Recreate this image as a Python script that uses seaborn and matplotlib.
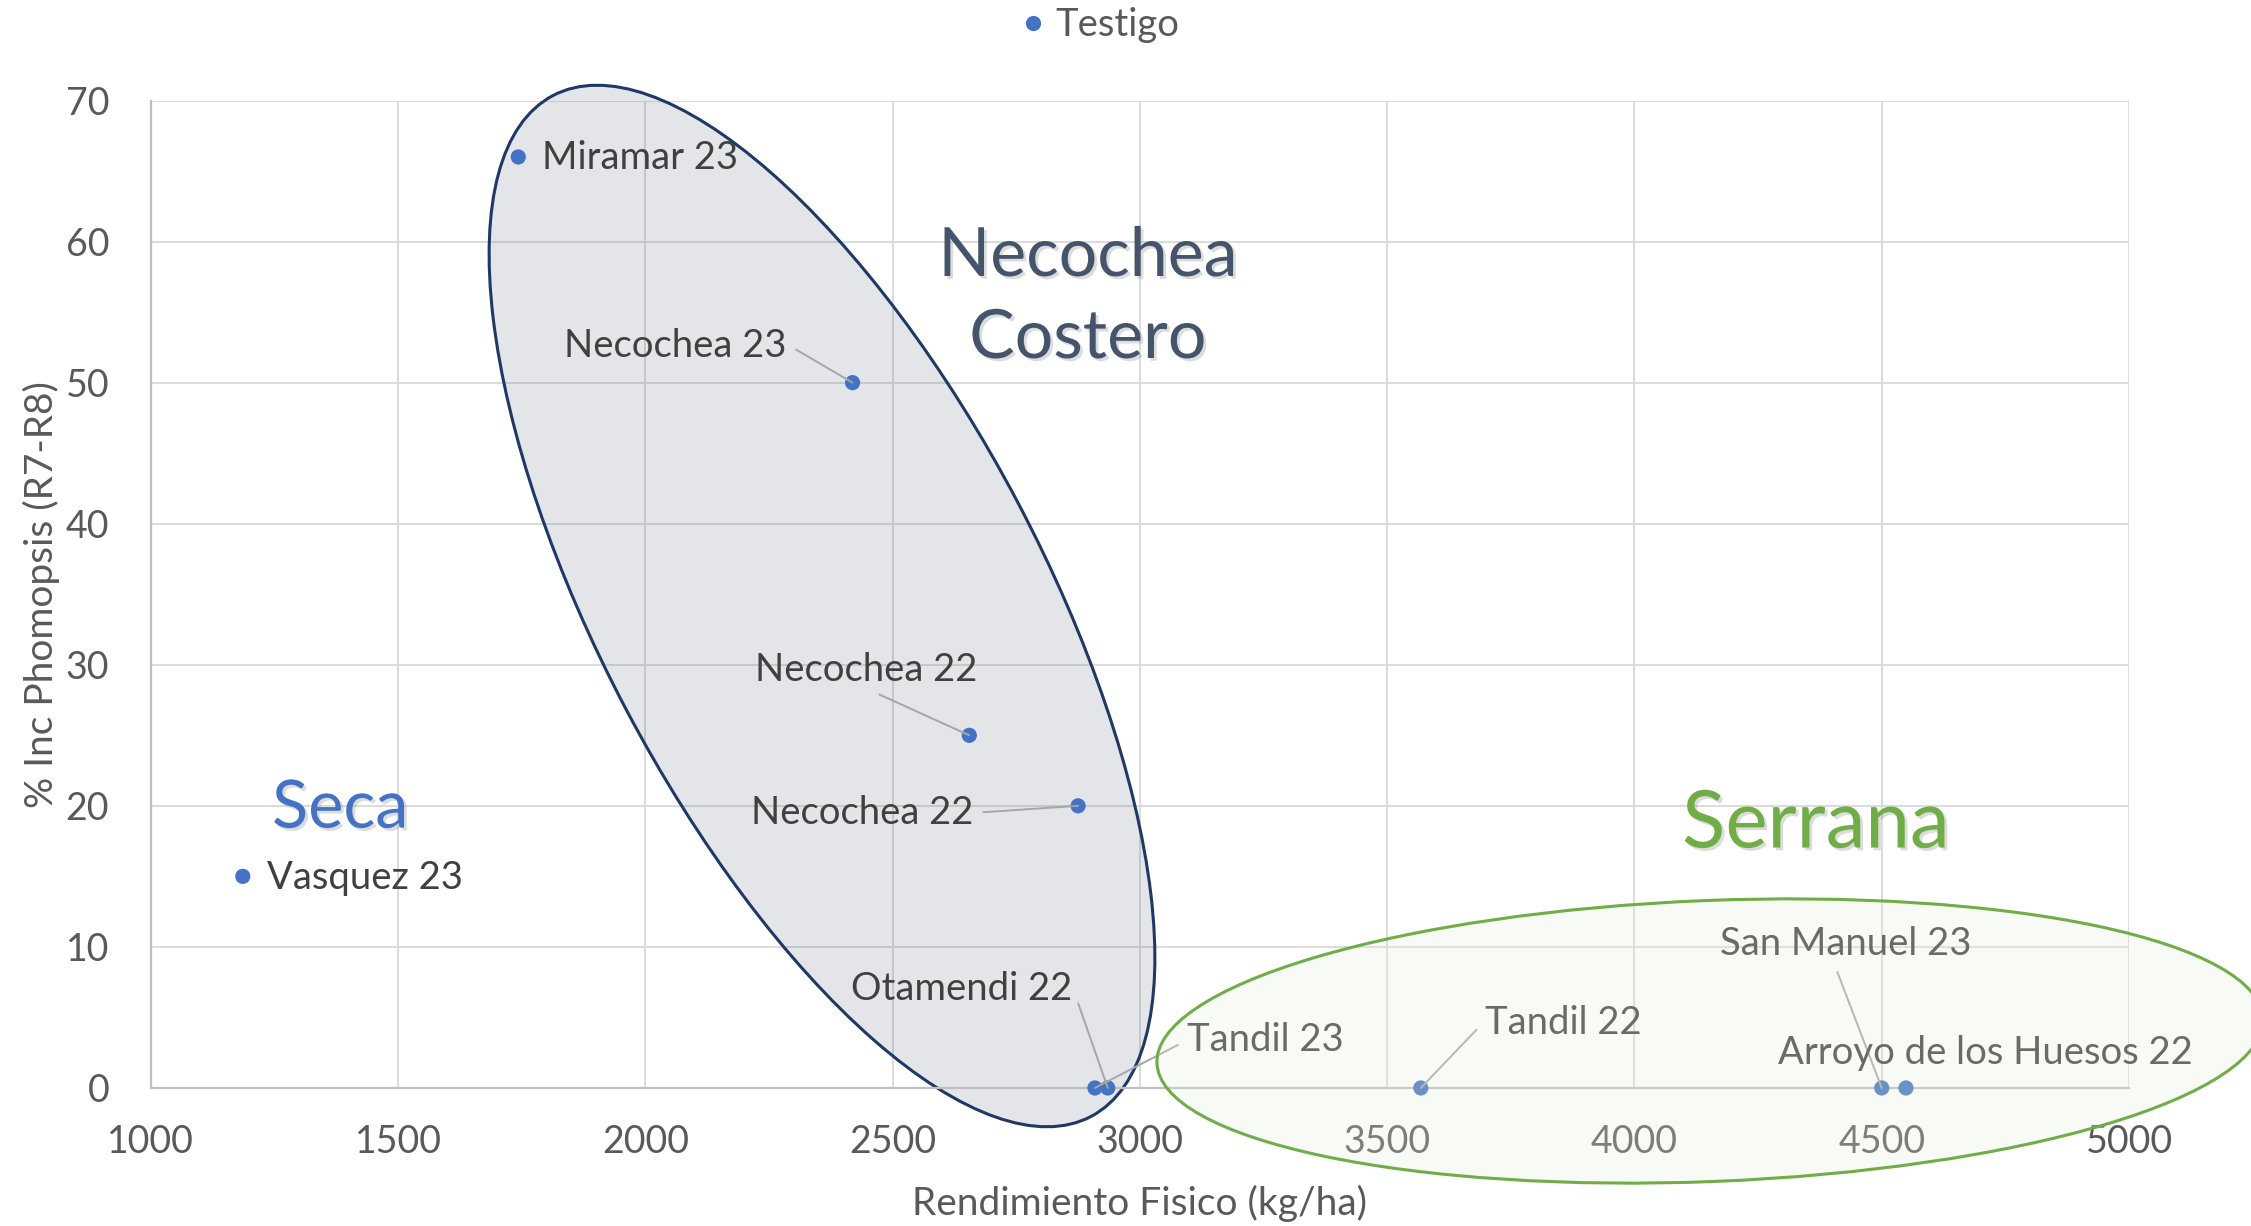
import numpy as np
import pandas as pd
import matplotlib
matplotlib.use("Agg")
import matplotlib.pyplot as plt
import matplotlib.patheffects as pe
from matplotlib.patches import Ellipse
from matplotlib.transforms import IdentityTransform
import seaborn as sns

# data
sitios = ["Miramar 23", "Necochea 23", "Necochea 22", "Necochea 22", "Vasquez 23",
          "Tandil 23", "Otamendi 22", "Tandil 22", "San Manuel 23", "Arroyo de los Huesos 22"]
rendimiento = [1743, 2419, 2655, 2875, 1186, 2909, 2935, 3568, 4500, 4549]
incidencia = [66, 50, 25, 20, 15, 0, 0, 0, 0, 0]

x_ticks = [1000, 1500, 2000, 2500, 3000, 3500, 4000, 4500, 5000]
y_ticks = [0, 10, 20, 30, 40, 50, 60, 70]

# label placement (x, y, ha, leader relpos or None)
label_pos = [
    (1790, 65.9, "left", None),
    (2286, 52.6, "right", (1.0, 0.55)),
    (2446, 29.6, "center", (0.5, 0.0)),
    (2663, 19.5, "right", (1.0, 0.5)),
    (1235, 14.85, "left", None),
    (3096, 3.4, "left", (0.0, 0.5)),
    (2864, 7.0, "right", (1.0, 0.55)),
    (3697, 4.6, "left", (0.0, 0.55)),
    (4428, 10.2, "center", (0.45, 0.0)),
    (4710, 2.5, "center", None),
]

df = pd.DataFrame({"rend": rendimiento, "inc": incidencia, "sitio": sitios, "serie": "Testigo"})

sns.set_theme(style="whitegrid")
plt.rcParams["font.family"] = ["Lato", "DejaVu Sans"]

fig, ax = plt.subplots(figsize=(22.51, 12.26), dpi=100)
fig.subplots_adjust(left=0.067, right=0.9458, top=0.918, bottom=0.1126)

# group ellipses (display pixel coords)
necochea = Ellipse((822, 620), width=1154, height=443, angle=-62.2,
                   transform=IdentityTransform(), facecolor=(0.267, 0.329, 0.416, 0.15),
                   edgecolor="#1F3864", lw=2.2, zorder=1.5, clip_on=False)
ax.add_artist(necochea)

sns.scatterplot(data=df, x="rend", y="inc", hue="serie", palette=["#4472C4"], s=120,
                edgecolor="none", ax=ax, zorder=3, clip_on=False)

serrana = Ellipse((1710, 185), width=1107, height=281, angle=2.3,
                  transform=IdentityTransform(), facecolor=(0.886, 0.933, 0.851, 0.25),
                  edgecolor="#70AD47", lw=2.2, zorder=4, clip_on=False)
ax.add_artist(serrana)

for (name, px, py), (tx, ty, ha, rel) in zip(zip(sitios, rendimiento, incidencia), label_pos):
    if rel is None:
        ax.text(tx, ty, name, ha=ha, va="center", fontsize=27.5, color="#404040", zorder=3.5)
    else:
        ax.annotate(name, xy=(px, py), xytext=(tx, ty), ha=ha, va="center",
                    fontsize=27.5, color="#404040", zorder=3.5, annotation_clip=False,
                    arrowprops=dict(arrowstyle="-", color="#A6A6A6", lw=1.4,
                                    shrinkA=5, shrinkB=0, relpos=rel))

shadow = [pe.SimplePatchShadow(offset=(2, -2), shadow_rgbFace="#777777", alpha=0.25), pe.Normal()]
ax.text(2895, 56.0, "Necochea\nCostero", ha="center", va="center", fontsize=49,
        color="#44546A", linespacing=1.4, zorder=5, path_effects=shadow)
ax.text(1383, 19.8, "Seca", ha="center", va="center", fontsize=48,
        color="#4472C4", zorder=5, path_effects=shadow)
ax.text(4367, 18.6, "Serrana", ha="center", va="center", fontsize=57.5,
        color="#70AD47", zorder=5, path_effects=shadow)

ax.set_xlim(1000, 5000)
ax.set_ylim(0, 70)
ax.set_xticks(x_ticks)
ax.set_yticks(y_ticks)
ax.tick_params(axis="x", labelsize=27, labelcolor="#595959", length=0, pad=26)
ax.tick_params(axis="y", labelsize=27, labelcolor="#595959", length=0, pad=30)
ax.grid(True, color="#D9D9D9", lw=1.3)
ax.set_axisbelow(True)
for side in ["top", "right"]:
    ax.spines[side].set_visible(False)
for side in ["left", "bottom"]:
    ax.spines[side].set_color("#BFBFBF")
    ax.spines[side].set_linewidth(1.6)

ax.set_xlabel("Rendimiento Fisico (kg/ha)", fontsize=28, color="#595959", labelpad=18)
ax.set_ylabel("% Inc Phomopsis (R7-R8)", fontsize=28, color="#595959", labelpad=4)

leg = ax.legend(loc="upper center", bbox_to_anchor=(0.483, 1.022), bbox_transform=fig.transFigure,
                frameon=False, fontsize=27.5, markerscale=1.0, handletextpad=-0.4)
for t in leg.get_texts():
    t.set_color("#595959")

fig.savefig("out.png", dpi=100)
